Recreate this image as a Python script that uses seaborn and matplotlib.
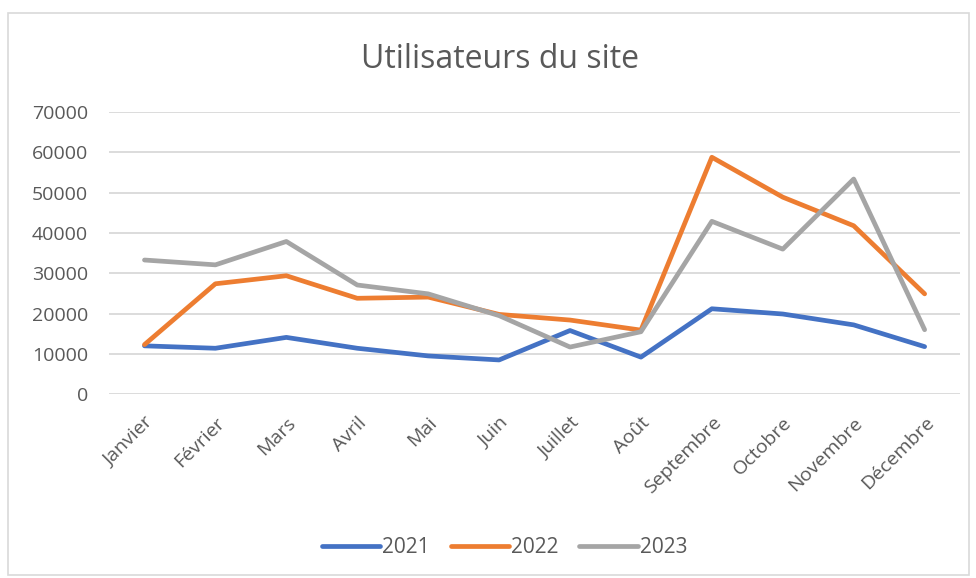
import pandas as pd
import matplotlib.pyplot as plt
import seaborn as sns
from matplotlib.patches import Rectangle

mois = ["Janvier", "Février", "Mars", "Avril", "Mai", "Juin", "Juillet",
        "Août", "Septembre", "Octobre", "Novembre", "Décembre"]
users_2021 = [12000, 11400, 14100, 11400, 9500, 8500, 15800, 9200, 21200, 19900, 17200, 11800]
users_2022 = [12300, 27400, 29400, 23800, 24100, 19800, 18400, 15900, 58800, 48900, 41800, 24900]
users_2023 = [33300, 32100, 37900, 27100, 24900, 19500, 11700, 15500, 42900, 36000, 53400, 16000]
annees = ["2021", "2022", "2023"]
couleurs = ["#4472C4", "#ED7D31", "#A5A5A5"]

df = pd.DataFrame({
    "mois": mois * 3,
    "idx": list(range(12)) * 3,
    "annee": ["2021"] * 12 + ["2022"] * 12 + ["2023"] * 12,
    "utilisateurs": users_2021 + users_2022 + users_2023,
})

sns.set_style("white")
plt.rcParams["font.family"] = ["Open Sans", "DejaVu Sans"]

fig = plt.figure(figsize=(9.76, 5.78), dpi=100)
ax = fig.add_axes([0.1117, 0.318, 0.872, 0.488])

sns.lineplot(data=df, x="idx", y="utilisateurs", hue="annee", hue_order=annees,
             palette=couleurs, linewidth=3.4, sort=False, ax=ax,
             solid_capstyle="round", solid_joinstyle="round")

ax.set_xlim(-0.5, 11.5)
ax.set_ylim(0, 70000)
ax.set_yticks(range(0, 70001, 10000))
ax.set_xticks(range(12))
ax.set_xticklabels(mois, rotation=45, ha="right", rotation_mode="anchor")
ax.tick_params(axis="both", colors="#595959", labelsize=14, length=0)
ax.tick_params(axis="x", pad=14)
ax.tick_params(axis="y", pad=15)
ax.grid(axis="y", color="#D9D9D9", linewidth=1.3)
ax.set_axisbelow(True)
for s in ax.spines.values():
    s.set_visible(False)
ax.set_xlabel("")
ax.set_ylabel("")

fig.text(0.512, 0.897, "Utilisateurs du site", ha="center", va="center",
         fontsize=23, color="#595959")

handles, labels = ax.get_legend_handles_labels()
ax.legend(handles, labels, loc="center", bbox_to_anchor=(0.517, 0.052),
          bbox_transform=fig.transFigure, ncol=3, frameon=False,
          fontsize=15, labelcolor="#595959", handlelength=2.8,
          handletextpad=0.1, columnspacing=1.0)

fig.patches.append(Rectangle((0.008, 0.005), 0.985, 0.972, transform=fig.transFigure,
                             fill=False, edgecolor="#D9D9D9", linewidth=1.2))

fig.savefig("out.png", dpi=100, facecolor="white")
